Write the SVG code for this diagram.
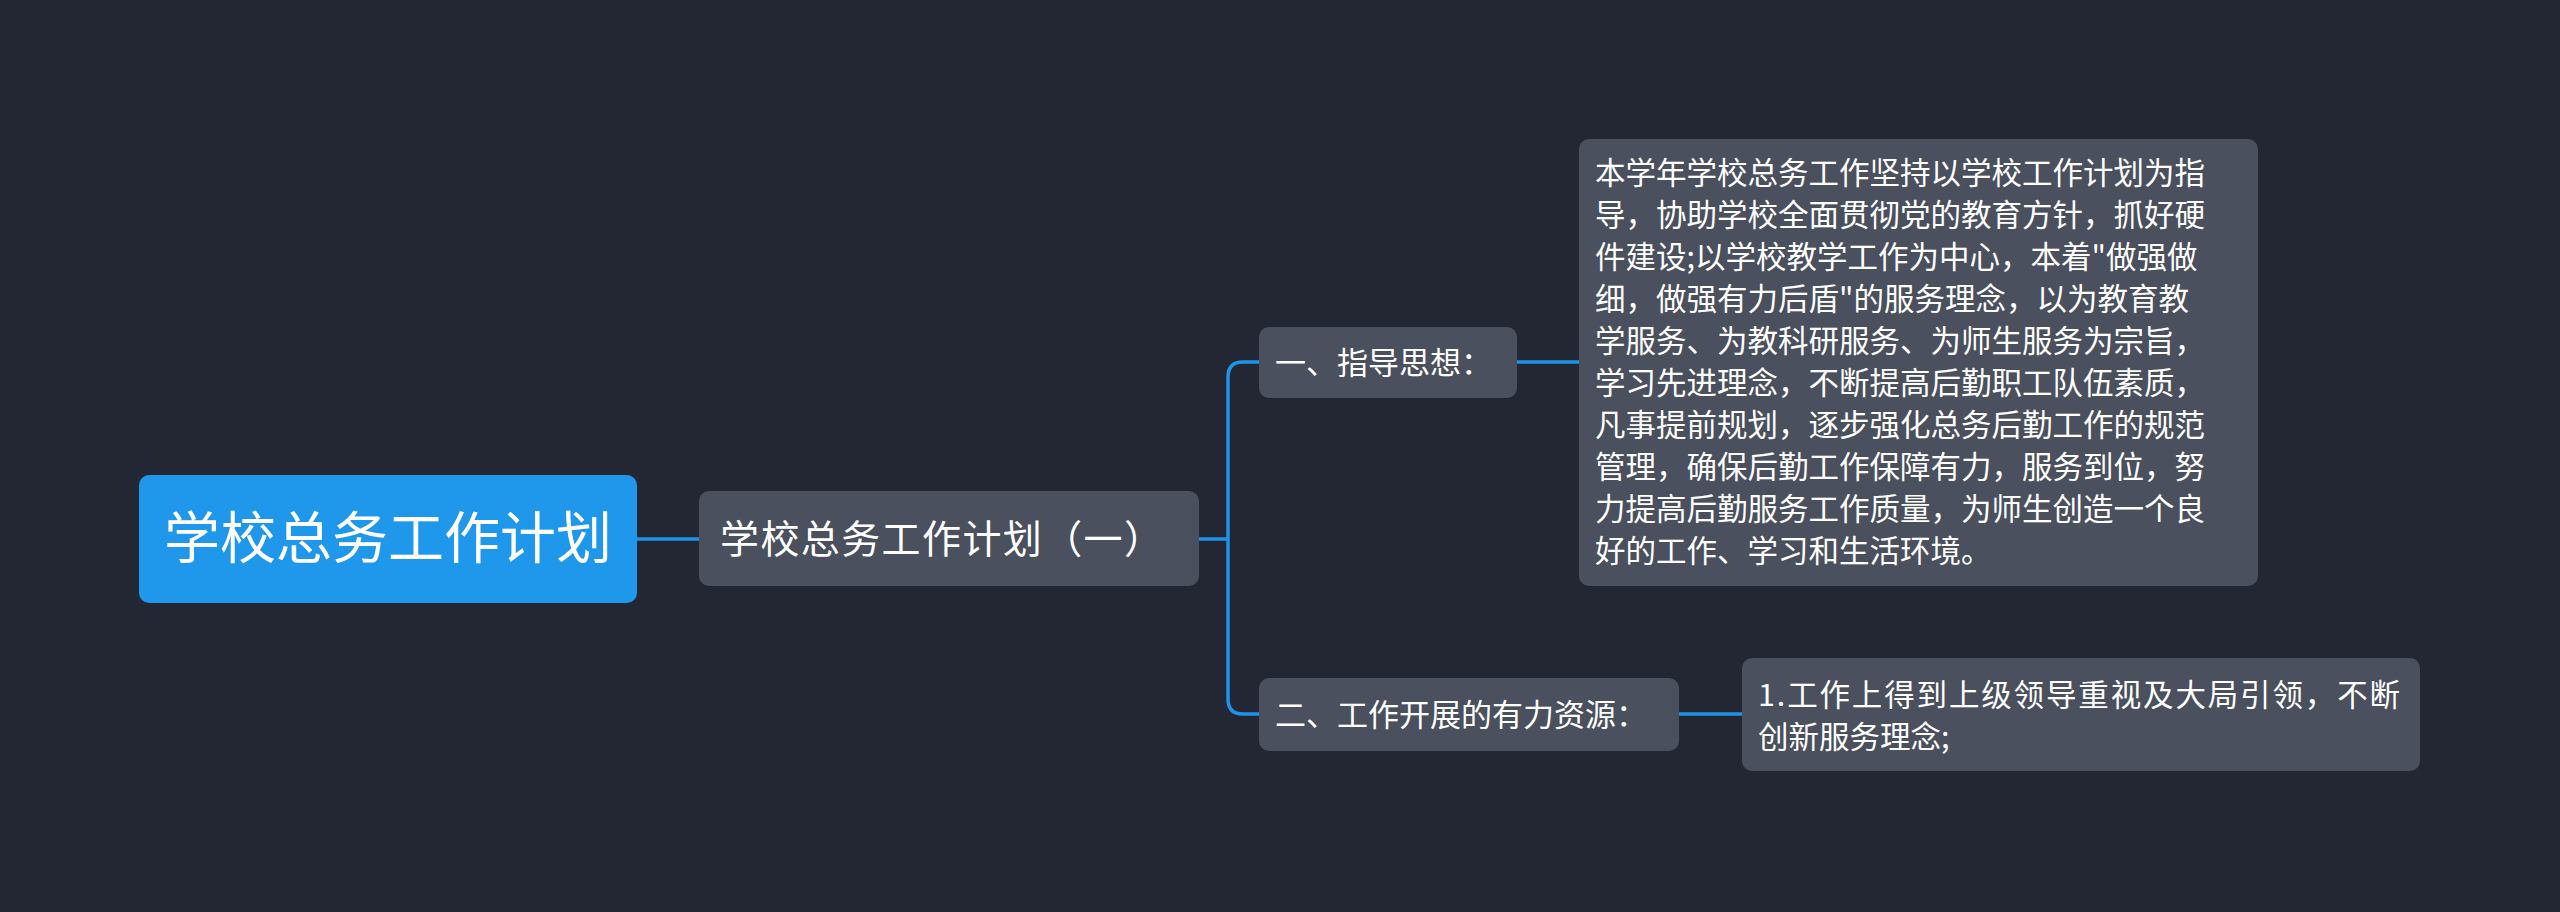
<svg xmlns="http://www.w3.org/2000/svg" width="2560" height="912" viewBox="0 0 2560 912">
<style>
.t{font-family:"Noto Sans CJK SC","Liberation Sans",sans-serif;fill:#ffffff}
.n{fill:#4a505d}
.c{fill:none;stroke:#1f93e6;stroke-width:3.5}
</style>
<rect width="2560" height="912" fill="#222733"/>
<g id="connectors">
<path class="c" d="M637 539H699"/>
<path class="c" d="M1199 539H1228"/>
<path class="c" d="M1259 362H1243Q1228 362 1228 377V699Q1228 714 1243 714H1259"/>
<path class="c" d="M1517 362H1579"/>
<path class="c" d="M1679 714H1742"/>
</g>
<g id="root"><rect x="139" y="475" width="498" height="128" rx="10" fill="#1f97ea"/>
<text class="t" x="388" y="558" font-size="56" text-anchor="middle">学校总务工作计划</text></g>
<g id="n1"><rect class="n" x="699" y="491" width="500" height="95" rx="10"/>
<text class="t" x="720" y="553" font-size="39" textLength="443">学校总务工作计划（一）</text></g>
<g id="n2"><rect class="n" x="1259" y="327" width="258" height="71" rx="10"/>
<text class="t" x="1275" y="374" font-size="31">一、指导思想：</text></g>
<g id="n3"><rect class="n" x="1259" y="678" width="420" height="73" rx="10"/>
<text class="t" x="1275" y="726" font-size="31">二、工作开展的有力资源：</text></g>
<g id="leaf1"><rect class="n" x="1579" y="139" width="679" height="447" rx="10"/>
<text class="t" font-size="30.5">
<tspan x="1595" y="184">本学年学校总务工作坚持以学校工作计划为指</tspan>
<tspan x="1595" y="226">导，协助学校全面贯彻党的教育方针，抓好硬</tspan>
<tspan x="1595" y="268">件建设;以学校教学工作为中心，本着"做强做</tspan>
<tspan x="1595" y="310">细，做强有力后盾"的服务理念，以为教育教</tspan>
<tspan x="1595" y="352">学服务、为教科研服务、为师生服务为宗旨，</tspan>
<tspan x="1595" y="394">学习先进理念，不断提高后勤职工队伍素质，</tspan>
<tspan x="1595" y="436">凡事提前规划，逐步强化总务后勤工作的规范</tspan>
<tspan x="1595" y="478">管理，确保后勤工作保障有力，服务到位，努</tspan>
<tspan x="1595" y="520">力提高后勤服务工作质量，为师生创造一个良</tspan>
<tspan x="1595" y="562">好的工作、学习和生活环境。</tspan>
</text></g>
<g id="leaf2"><rect class="n" x="1742" y="658" width="678" height="113" rx="10"/>
<text class="t" font-size="30.5">
<tspan x="1758" y="706" textLength="642">1.工作上得到上级领导重视及大局引领，不断</tspan>
<tspan x="1758" y="748">创新服务理念;</tspan>
</text></g>
</svg>
